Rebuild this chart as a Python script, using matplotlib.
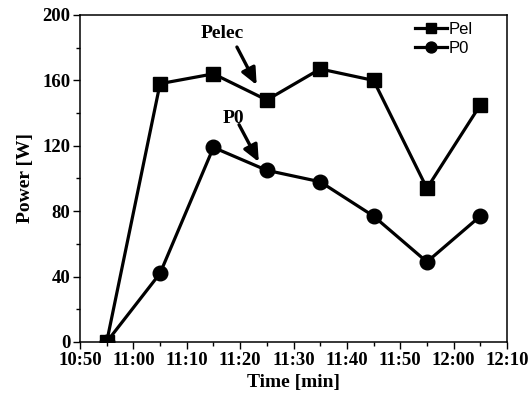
import numpy as np
import matplotlib
matplotlib.use('Agg')
import matplotlib.pyplot as plt
from matplotlib.ticker import MultipleLocator, FuncFormatter
from matplotlib.font_manager import FontProperties

# Czas pomiaru w minutach od 10:00 oraz moce
time_min = [55, 65, 75, 85, 95, 105, 115, 125]
p_elec = [0, 158, 164, 148, 167, 160, 94, 145]
p_0 = [0, 42, 119, 105, 98, 77, 49, 77]


def hhmm(x, pos):
    m = int(round(x)) + 600
    return f"{m // 60}:{m % 60:02d}"


fig = plt.figure(figsize=(5.3, 4.04), dpi=100)
ax = fig.add_axes([80 / 530, 1 - 342 / 404, 427 / 530, 327 / 404])

ax.plot(time_min, p_elec, '-s', color='black', lw=2.3, ms=9.5, label='Pel')
ax.plot(time_min, p_0, '-o', color='black', lw=2.3, ms=10.5, label='P0')

ax.set_xlim(50, 130)
ax.set_ylim(0, 200)
ax.xaxis.set_major_locator(MultipleLocator(10))
ax.xaxis.set_minor_locator(MultipleLocator(5))
ax.yaxis.set_major_locator(MultipleLocator(40))
ax.yaxis.set_minor_locator(MultipleLocator(20))
ax.xaxis.set_major_formatter(FuncFormatter(hhmm))

serif = {'family': 'Liberation Serif', 'weight': 'bold', 'size': 14}
tick_font = FontProperties(family='Liberation Serif', weight='bold', size=13.5)
for lab in ax.get_xticklabels() + ax.get_yticklabels():
    lab.set_fontproperties(tick_font)
ax.tick_params(which='major', length=5, width=1, direction='out', pad=2)
ax.tick_params(which='minor', length=3, width=1, direction='out')
for s in ax.spines.values():
    s.set_linewidth(1.1)

ax.set_xlabel('Time [min]', fontdict=serif, labelpad=4)
ax.set_ylabel('Power [W]', fontdict=serif, labelpad=6)

# Opisy krzywych ze strzałkami
arrow = dict(arrowstyle='-|>,head_length=1.0,head_width=0.45', color='black', lw=2.4,
             shrinkA=0, shrinkB=0)
ax.text(76.6, 188.4, 'Pelec', ha='center', va='center', **serif)
ax.annotate('', xy=(83.1, 157.2), xytext=(79.4, 180.4), arrowprops=arrow)
ax.text(78.7, 137, 'P0', ha='center', va='center', **serif)
ax.annotate('', xy=(83.5, 110.1), xytext=(79.8, 132.9), arrowprops=arrow)

ax.legend(loc='upper right', frameon=False, prop={'family': 'Liberation Sans', 'size': 12},
          handlelength=1.9, handletextpad=0.1, labelspacing=0.25, markerscale=0.75,
          borderaxespad=0.0, bbox_to_anchor=(0.935, 1.0))

fig.savefig('out.png', dpi=100)
